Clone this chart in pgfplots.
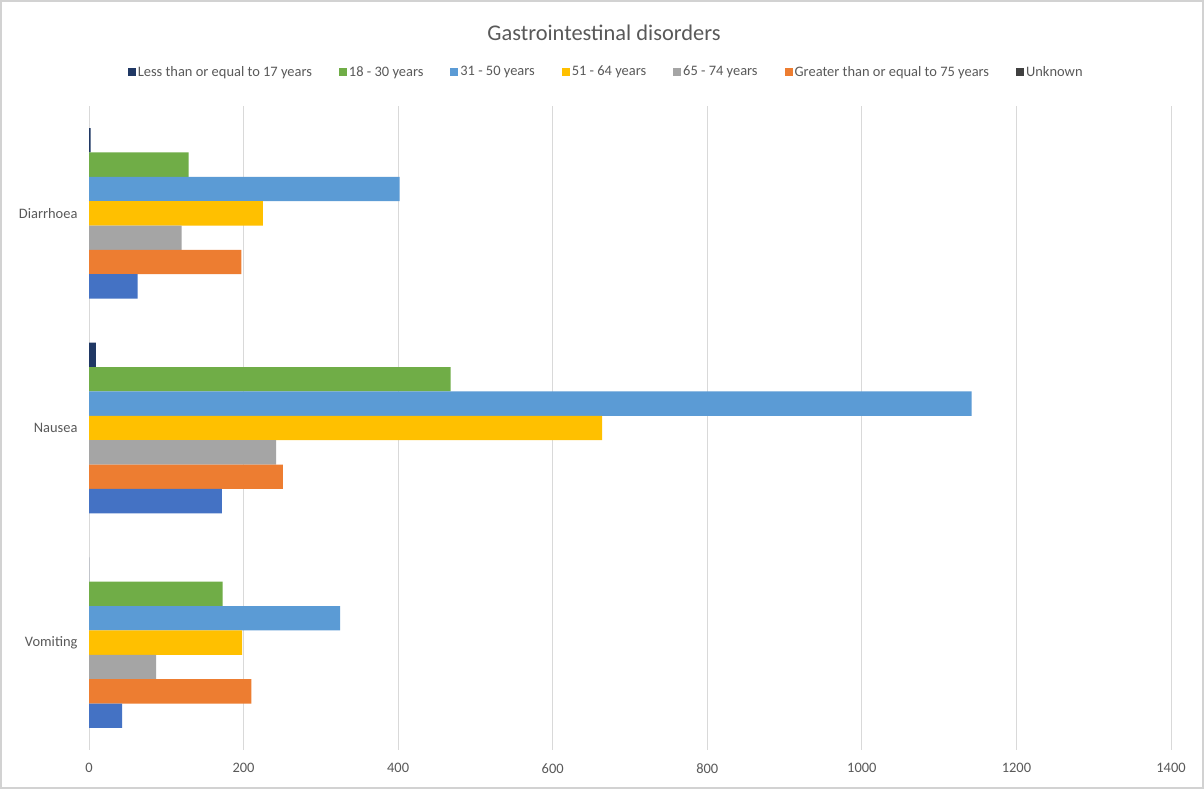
\documentclass[border=0pt]{standalone}
\usepackage{pgfplots}
\pgfplotsset{compat=1.18}
\usepackage{fontspec}
\setmainfont{Carlito}
\definecolor{c1}{HTML}{203864}
\definecolor{c2}{HTML}{70AD47}
\definecolor{c3}{HTML}{5B9BD5}
\definecolor{c4}{HTML}{FFC000}
\definecolor{c5}{HTML}{A5A5A5}
\definecolor{c6}{HTML}{ED7D31}
\definecolor{c7}{HTML}{4472C4}
\definecolor{unk}{HTML}{404040}
\definecolor{txt}{HTML}{595959}
\begin{document}
\begin{tikzpicture}[x=1bp,y=1bp]
\fill[white] (0,0) rectangle (1204,789);
\draw[gray!35, line width=1.5bp] (1,1) rectangle (1203,788);
\node[text=txt] at (604,756) {\fontsize{22.5}{26}\selectfont Gastrointestinal disorders};
\begin{axis}[
  at={(89bp,39bp)}, anchor=south west, scale only axis,
  width=1082bp, height=644bp,
  xbar, bar width=0.1135,
  xmin=0, xmax=1400, ymin=-0.5, ymax=2.5,
  ytick={0,1,2},
  yticklabels={Vomiting,Nausea,Diarrhoea},
  xtick={0,200,...,1400},
  xmajorgrids, grid style={gray!30, line width=0.8bp},
  axis line style={draw=none}, major tick length=0,
  tick label style={text=txt, font=\fontsize{14.5}{17}\selectfont},
  /pgf/number format/assume math mode=true,
  /pgf/number format/1000 sep={},
  xticklabel style={yshift=-10bp},
  yticklabel style={xshift=-8bp},
  legend columns=7,
  legend style={at={(0.478,1.053)}, anchor=center, draw=none, fill=none,
    font=\fontsize{14.5}{17}\selectfont, text=txt,
    /tikz/every even column/.append style={column sep=25bp}},
  legend image code/.code={\fill[#1] (-3bp,-4bp) rectangle (5bp,4bp);},
]
\addplot[fill=c1, draw=none, bar shift=0.3405] coordinates {(2,2) (9,1) (0,0)};
\addlegendentry{Less than or equal to 17 years}
\addplot[fill=c2, draw=none, bar shift=0.227] coordinates {(129,2) (468,1) (173,0)};
\addlegendentry{18 - 30 years}
\addplot[fill=c3, draw=none, bar shift=0.1135] coordinates {(402,2) (1142,1) (325,0)};
\addlegendentry{31 - 50 years}
\addplot[fill=c4, draw=none, bar shift=0] coordinates {(225,2) (664,1) (198,0)};
\addlegendentry{51 - 64 years}
\addplot[fill=c5, draw=none, bar shift=-0.1135] coordinates {(120,2) (242,1) (87,0)};
\addlegendentry{65 - 74 years}
\addplot[fill=c6, draw=none, bar shift=-0.227] coordinates {(197,2) (251,1) (210,0)};
\addlegendentry{Greater than or equal to 75 years}
\addplot[fill=c7, draw=none, bar shift=-0.3405,
  legend image code/.code={\fill[unk] (-3bp,-4bp) rectangle (5bp,4bp);}] coordinates {(63,2) (172,1) (43,0)};
\addlegendentry{Unknown}
\end{axis}
\end{tikzpicture}
\end{document}
